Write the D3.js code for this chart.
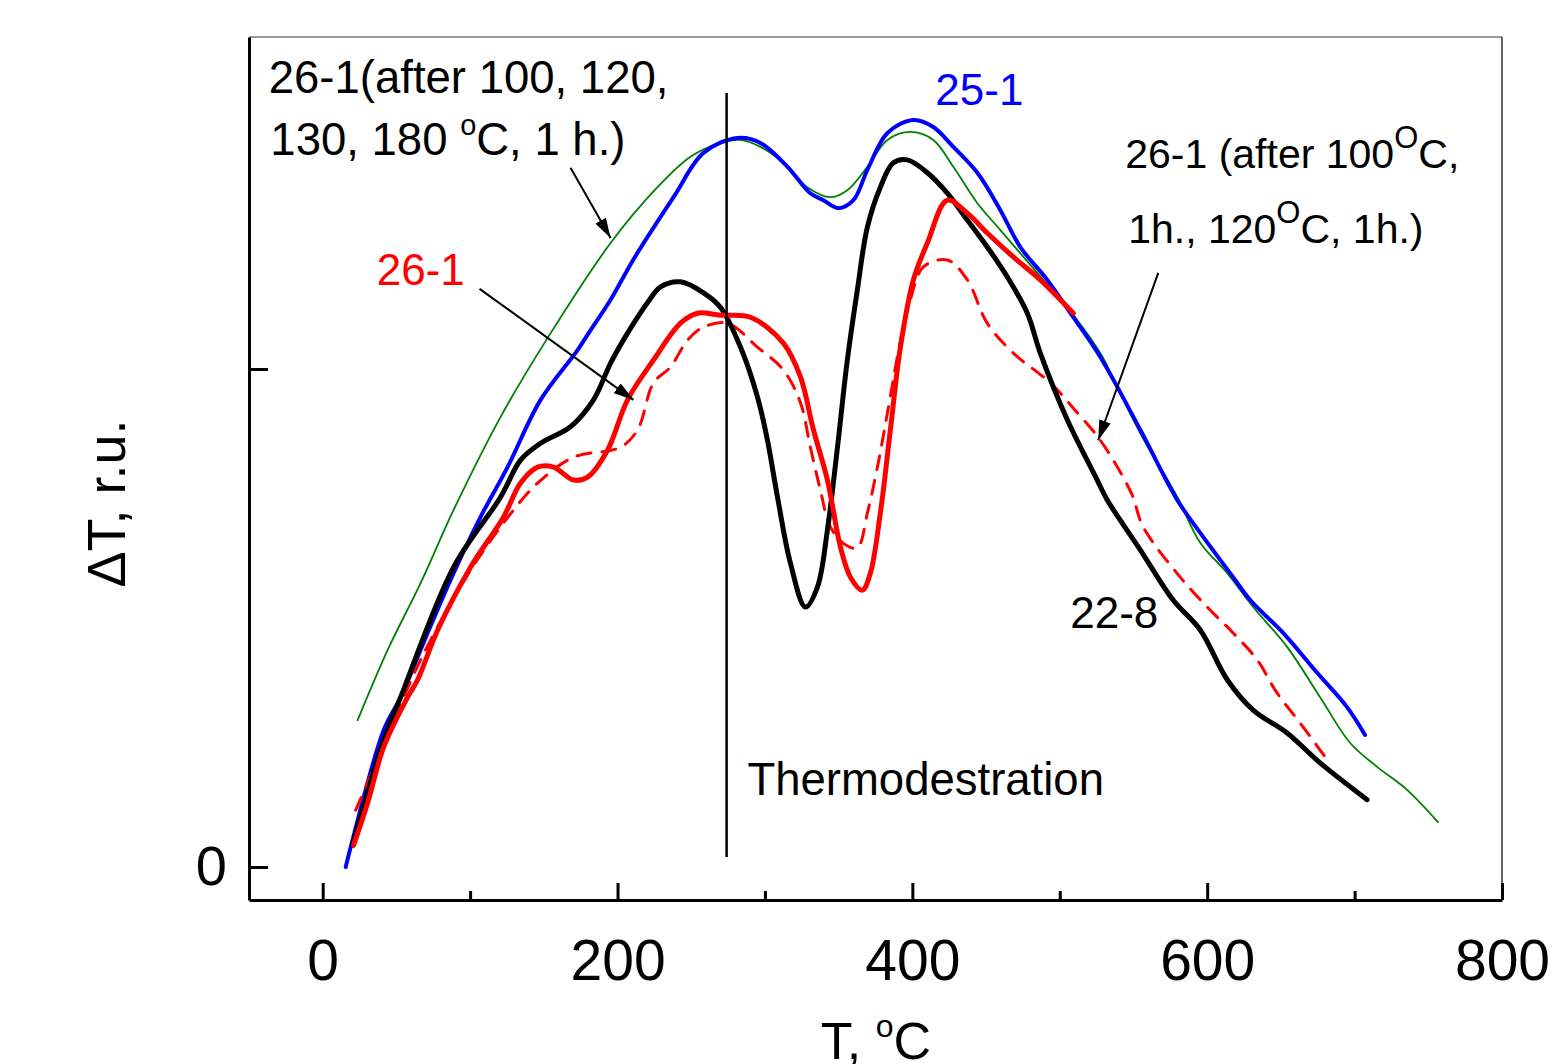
<!DOCTYPE html>
<html>
<head>
<meta charset="utf-8">
<script src="https://cdn.jsdelivr.net/npm/d3@7"></script>
<style>
  body { margin: 0; background: #fff; }
  text { font-family: "Liberation Sans", Arial, sans-serif; }
</style>
</head>
<body>
<div id="container"></div>
<script>
// T in °C, dT in relative units
const t25_1 = [15.6, 19.0, 41.4, 52.9, 71.2, 88.8, 107.1, 125.4, 147.8, 172.9, 181.7, 195.3, 210.8, 238.0, 258.3, 281.4, 296.9, 315.3, 330.8, 339.7, 349.8, 360.0, 369.5, 383.1, 400.7, 414.2, 427.8, 444.1, 459.7, 473.2, 491.5, 509.2, 527.5, 554.6, 579.7, 595.3, 617.6, 629.2, 651.5, 674.6, 694.9, 707.1];
const v25_1 = [0.0, 0.040, 0.275, 0.341, 0.470, 0.590, 0.703, 0.803, 0.938, 1.038, 1.078, 1.139, 1.220, 1.345, 1.434, 1.464, 1.454, 1.406, 1.353, 1.339, 1.323, 1.339, 1.400, 1.474, 1.500, 1.486, 1.446, 1.394, 1.319, 1.245, 1.179, 1.104, 1.024, 0.878, 0.737, 0.671, 0.582, 0.536, 0.470, 0.390, 0.321, 0.265];

const tAfter4 = [23.7, 44.1, 66.4, 88.8, 120.7, 152.5, 195.3, 227.1, 249.5, 269.8, 283.4, 296.9, 312.5, 328.8, 344.4, 355.9, 369.5, 383.1, 398.6, 414.2, 427.8, 444.1, 459.7, 484.7, 511.9, 527.5, 539.0, 554.6, 568.1, 579.7, 595.3, 613.6, 631.2, 654.2, 676.6, 697.0, 715.3, 735.6, 756.6];
const vAfter4 = [0.295, 0.436, 0.570, 0.717, 0.904, 1.062, 1.253, 1.365, 1.426, 1.454, 1.460, 1.446, 1.414, 1.365, 1.345, 1.359, 1.406, 1.460, 1.476, 1.460, 1.406, 1.333, 1.279, 1.193, 1.098, 1.032, 0.964, 0.871, 0.803, 0.743, 0.651, 0.590, 0.522, 0.442, 0.341, 0.249, 0.201, 0.155, 0.090];

const t22_8 = [20.3, 41.4, 52.9, 88.8, 120.7, 134.2, 147.8, 168.1, 183.7, 195.3, 206.8, 220.3, 229.2, 242.7, 258.3, 269.8, 283.4, 294.9, 301.7, 308.5, 317.3, 327.5, 335.6, 342.4, 349.2, 355.9, 362.7, 369.5, 378.3, 387.1, 396.6, 410.2, 423.7, 437.3, 450.8, 464.4, 478.0, 486.8, 505.1, 525.4, 532.2, 554.6, 576.9, 595.3, 613.6, 631.2, 654.2, 676.6, 708.5];
const v22_8 = [0.044, 0.255, 0.341, 0.602, 0.743, 0.817, 0.851, 0.884, 0.938, 1.012, 1.072, 1.133, 1.165, 1.175, 1.153, 1.124, 1.044, 0.944, 0.857, 0.743, 0.610, 0.522, 0.562, 0.677, 0.843, 1.018, 1.159, 1.285, 1.365, 1.414, 1.420, 1.394, 1.353, 1.299, 1.245, 1.185, 1.112, 1.032, 0.898, 0.777, 0.737, 0.637, 0.536, 0.476, 0.376, 0.315, 0.269, 0.209, 0.135];

const t26_1 = [21.0, 30.5, 41.4, 57.6, 64.4, 78.0, 100.3, 122.7, 134.2, 145.8, 156.6, 170.2, 179.7, 193.2, 206.8, 224.4, 242.7, 254.2, 269.8, 290.2, 312.5, 324.1, 332.9, 342.4, 351.2, 358.0, 366.1, 371.5, 378.3, 385.1, 391.9, 400.7, 410.2, 423.7, 437.3, 450.8, 468.5, 486.8, 509.2];
const v26_1 = [0.044, 0.129, 0.241, 0.341, 0.376, 0.476, 0.602, 0.703, 0.771, 0.803, 0.803, 0.777, 0.783, 0.837, 0.938, 1.018, 1.092, 1.112, 1.108, 1.104, 1.052, 0.984, 0.878, 0.777, 0.643, 0.582, 0.556, 0.590, 0.711, 0.878, 1.044, 1.179, 1.253, 1.339, 1.313, 1.273, 1.225, 1.179, 1.112];

const tAfter2 = [22.4, 41.4, 66.4, 100.3, 129.5, 145.8, 170.2, 202.0, 213.6, 224.4, 235.9, 247.5, 258.3, 274.6, 294.9, 312.5, 324.1, 330.8, 337.6, 344.4, 354.6, 362.7, 369.5, 376.3, 383.1, 389.8, 393.9, 398.6, 407.5, 423.7, 437.3, 450.8, 468.5, 493.6, 511.9, 527.5, 548.5, 556.6, 581.7, 600.0, 617.6, 633.9, 647.5, 663.1, 680.0];
const vAfter2 = [0.114, 0.245, 0.416, 0.596, 0.717, 0.771, 0.823, 0.843, 0.878, 0.972, 1.004, 1.058, 1.084, 1.092, 1.044, 0.998, 0.932, 0.843, 0.757, 0.683, 0.647, 0.641, 0.711, 0.803, 0.912, 1.024, 1.084, 1.139, 1.205, 1.219, 1.179, 1.092, 1.032, 0.972, 0.912, 0.857, 0.751, 0.683, 0.582, 0.522, 0.470, 0.416, 0.349, 0.289, 0.221];

const xTicksMajor = [0, 200, 400, 600, 800];
const xTicksMinor = [100, 300, 500, 700];
const yTicks = [0, 1];

const W = 1558, H = 1064;
const margin = { top: 37, right: 56, bottom: 164, left: 249 };
const width = W - margin.left - margin.right;
const height = H - margin.top - margin.bottom;

const svg = d3.select('#container').append('svg')
  .attr('width', W).attr('height', H);

const defs = svg.append('defs');
defs.append('marker')
  .attr('id', 'arrow')
  .attr('viewBox', '0 0 20 12')
  .attr('refX', 20).attr('refY', 6)
  .attr('markerWidth', 20).attr('markerHeight', 12)
  .attr('markerUnits', 'userSpaceOnUse')
  .attr('orient', 'auto')
  .append('path').attr('d', 'M0,0 L20,6 L0,12 Z').attr('fill', '#000');

const g = svg.append('g').attr('transform', `translate(${margin.left},${margin.top})`);

const x = d3.scaleLinear().domain([-50, 800]).range([0, width]);
const y = d3.scaleLinear().domain([-0.0663, 1.6667]).range([height, 0]);

// frame top / right
g.append('line').attr('x1', 0).attr('x2', width).attr('y1', 0).attr('y2', 0)
  .attr('stroke', '#777').attr('stroke-width', 1.5);
g.append('line').attr('x1', width).attr('x2', width).attr('y1', 0).attr('y2', height)
  .attr('stroke', '#333').attr('stroke-width', 1.5);

// x axis, ticks inward
const xAxis = g.append('g').attr('transform', `translate(0,${height})`)
  .call(d3.axisBottom(x).tickValues(xTicksMajor).tickSize(-17).tickPadding(29).tickSizeOuter(0));
xAxis.selectAll('.tick text').attr('dy', '0.9em').style('font-size', '57px');
g.append('g').attr('transform', `translate(0,${height})`)
  .call(d3.axisBottom(x).tickValues(xTicksMinor).tickSize(-9).tickFormat('').tickSizeOuter(0))
  .select('.domain').remove();

const yAxis = g.append('g')
  .call(d3.axisLeft(y).tickValues(yTicks).tickSize(-19).tickPadding(22)
    .tickFormat(d => d === 0 ? '0' : '').tickSizeOuter(0));
yAxis.selectAll('.tick text').style('font-size', '56px');

svg.selectAll('.domain').attr('stroke', '#000').attr('stroke-width', 3);
svg.selectAll('.tick line').attr('stroke', '#000').attr('stroke-width', 3);

// axis titles
g.append('text')
  .attr('transform', `translate(${-124},${y(0.73)}) rotate(-90)`)
  .attr('text-anchor', 'middle')
  .style('font-size', '54px')
  .text('ΔT, r.u.');

const xl = svg.append('text')
  .attr('x', 876).attr('y', 1059)
  .attr('text-anchor', 'middle')
  .style('font-size', '52px');
xl.append('tspan').text('T, ');
xl.append('tspan').attr('dy', -22).style('font-size', '32px').text('o');
xl.append('tspan').attr('dy', 22).text('C');

// curves
const line = d3.line()
  .x(d => x(d[0]))
  .y(d => y(d[1]))
  .curve(d3.curveCatmullRom.alpha(0.5));

const series = [
  { t: tAfter4, v: vAfter4, color: '#008000', w: 1.8, dash: null },
  { t: t25_1, v: v25_1, color: '#0000ff', w: 4, dash: null },
  { t: tAfter2, v: vAfter2, color: '#ff0000', w: 3, dash: '14,11' },
  { t: t22_8, v: v22_8, color: '#000000', w: 5, dash: null },
  { t: t26_1, v: v26_1, color: '#ff0000', w: 5, dash: null }
];

series.forEach(s => {
  g.append('path')
    .datum(d3.zip(s.t, s.v))
    .attr('fill', 'none')
    .attr('stroke', s.color)
    .attr('stroke-width', s.w)
    .attr('stroke-dasharray', s.dash)
    .attr('stroke-linejoin', 'round')
    .attr('stroke-linecap', 'round')
    .attr('d', line);
});

// thermodestration line
g.append('line')
  .attr('x1', x(274)).attr('x2', x(274))
  .attr('y1', y(1.554)).attr('y2', y(0.02))
  .attr('stroke', '#000').attr('stroke-width', 2.5);

// arrows
const arrows = [
  [[168.1, 1.404], [195.3, 1.263]],
  [[106.4, 1.161], [210.8, 0.938]],
  [[566.8, 1.193], [526.1, 0.857]]
];
arrows.forEach(a => {
  g.append('line')
    .attr('x1', x(a[0][0])).attr('y1', y(a[0][1]))
    .attr('x2', x(a[1][0])).attr('y2', y(a[1][1]))
    .attr('stroke', '#000').attr('stroke-width', 2)
    .attr('marker-end', 'url(#arrow)');
});

// labels
const lbl = (T, v, txt, color, size) =>
  g.append('text').attr('x', x(T)).attr('y', y(v))
    .attr('fill', color).style('font-size', size + 'px').text(txt);

lbl(-36.6, 1.554, '26-1(after 100, 120,', '#000', 45.5);
const l2 = g.append('text').attr('x', x(-35.5)).attr('y', y(1.430)).style('font-size', '45.5px');
l2.append('tspan').text('130, 180 ');
l2.append('tspan').attr('dy', -20).style('font-size', '29px').text('o');
l2.append('tspan').attr('dy', 20).text('C, 1 h.)');

lbl(415.6, 1.530, '25-1', '#0000ff', 44);
lbl(36.6, 1.169, '26-1', '#ff0000', 44);
lbl(507.1, 0.480, '22-8', '#000', 44);
lbl(288.1, 0.145, 'Thermodestration', '#000', 45.5);

const r1 = g.append('text').attr('x', x(544.4)).attr('y', y(1.404)).style('font-size', '41px');
r1.append('tspan').text('26-1 (after 100');
r1.append('tspan').attr('dy', -20).style('font-size', '31px').text('O');
r1.append('tspan').attr('dy', 20).text('C,');
const r2 = g.append('text').attr('x', x(546.4)).attr('y', y(1.253)).style('font-size', '41px');
r2.append('tspan').text('1h., 120');
r2.append('tspan').attr('dy', -20).style('font-size', '31px').text('O');
r2.append('tspan').attr('dy', 20).text('C, 1h.)');
</script>
</body>
</html>
